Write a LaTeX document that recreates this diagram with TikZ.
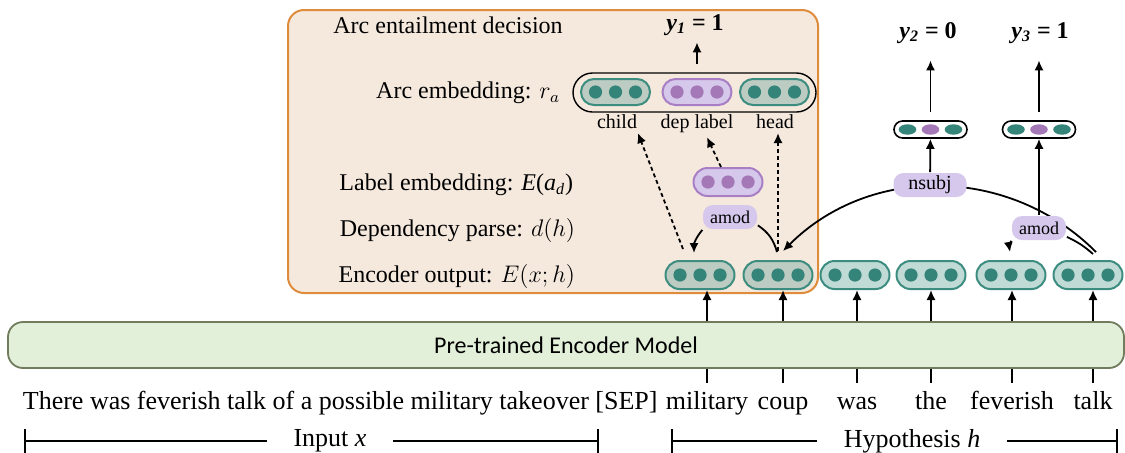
\documentclass[tikz,border=0pt]{standalone}
\usepackage{fontspec}
\setmainfont{Liberation Serif}
\newfontfamily\calibrifont{Carlito}
\usetikzlibrary{shapes.misc,arrows.meta}

\definecolor{boxorange}{RGB}{222,140,60}
\definecolor{boxbeige}{RGB}{245,233,222}
\definecolor{encgreen}{RGB}{226,239,217}
\definecolor{encedge}{RGB}{112,124,92}
\definecolor{tealdot}{RGB}{53,132,121}
\definecolor{tealedge}{RGB}{61,140,128}
\definecolor{tealfill}{RGB}{192,219,214}
\definecolor{tealgray}{RGB}{188,204,194}
\definecolor{purpdot}{RGB}{164,119,183}
\definecolor{purpedge}{RGB}{168,126,196}
\definecolor{purpfill}{RGB}{213,200,234}
\definecolor{relfill}{RGB}{213,200,236}

\tikzset{
  >={Latex[length=5pt,width=4.6pt]},
  capsule/.style n args={3}{rounded rectangle, draw=#1, fill=#2, line width=1pt,
    minimum width=34.5pt, minimum height=14pt, inner sep=0pt,
    path picture={\foreach \dx in {-10pt,0pt,10pt}
      \fill[#3] ([xshift=\dx]path picture bounding box.center) circle (3.3pt);}},
  vec/.style={capsule={tealedge}{tealfill}{tealdot}},
  boxvec/.style={capsule={tealedge}{tealgray}{tealdot}},
  labvec/.style={capsule={purpedge}{purpfill}{purpdot}},
  outvec/.style={rounded rectangle, draw, line width=0.8pt, fill=white,
    minimum width=36.5pt, minimum height=8.5pt, inner sep=0pt,
    path picture={
      \fill[tealdot] ([xshift=-11.5pt]path picture bounding box.center) ellipse (4.4pt and 2.6pt);
      \fill[purpdot] (path picture bounding box.center) ellipse (4.4pt and 2.6pt);
      \fill[tealdot] ([xshift=11.5pt]path picture bounding box.center) ellipse (4.4pt and 2.6pt);}},
  outline/.style={rounded rectangle, draw, line width=0.7pt, minimum width=121.5pt,
    minimum height=19.5pt, inner sep=0pt},
  rel/.style={rectangle, rounded corners=5pt, fill=relfill, inner xsep=3.5pt, inner ysep=0pt,
    minimum height=12pt, font=\fontsize{9}{10}\selectfont},
  lbl/.style={font=\fontsize{12}{14}\selectfont, inner sep=1pt},
  small/.style={anchor=base, font=\fontsize{10}{12}\selectfont, inner sep=2pt},
  yout/.style={font=\bfseries\fontsize{12}{14}\selectfont, inner sep=2pt},
  word/.style={anchor=base, font=\fontsize{13}{15}\selectfont, text height=9pt,
    text depth=3pt, inner ysep=3.5pt, inner xsep=0pt},
  span/.style={fill=white, inner xsep=13.5pt, inner ysep=1pt, font=\fontsize{13}{15}\selectfont},
  enc/.style={rectangle, rounded corners=7.5pt, draw=encedge, line width=0.9pt, fill=encgreen,
    minimum width=558pt, minimum height=23pt, font=\calibrifont\fontsize{12}{14}\selectfont},
  dotarrow/.style={->, dash pattern=on 2pt off 1.5pt, line width=0.9pt},
  bracket/.style={{Bar[width=12pt]}-{Bar[width=12pt]}, line width=0.8pt}
}

\begin{document}
\begin{tikzpicture}[x=0.5pt,y=-0.5pt,line width=0.9pt]
  \useasboundingbox (0,0) rectangle (1125,452);
  \draw[draw=boxorange, fill=boxbeige, line width=1pt, rounded corners=8pt] (288,10) rectangle (818,293);

  \node[lbl] (dec) at (448,25) {Arc entailment decision};
  \node[lbl, anchor=east] (are) at (563,93) {Arc embedding: $r_a$};
  \node[lbl, anchor=east] (lae) at (576,185) {Label embedding: \textit{E}(\textit{a}\textsubscript{\textit{d}})};
  \node[lbl, anchor=east] (dep) at (578,230) {Dependency parse: $d(h)$};
  \node[lbl, anchor=east] (eno) at (578,276) {Encoder output: $E(x;h)$};

  \node[enc] (enc) at (566,345) {Pre-trained Encoder Model};

  \node[boxvec] (c1) at (700,275) {};
  \node[boxvec] (c2) at (778,275) {};
  \node[vec] (c3) at (855,275) {};
  \node[vec] (c4) at (931,275) {};
  \node[vec] (c5) at (1011,275) {};
  \node[vec] (c6) at (1088,275) {};

  \node[anchor=base west, inner sep=0pt, font=\fontsize{13}{15}\selectfont] (inp) at (22,409) {There was feverish talk of a possible military takeover [SEP]};
  \node[word] (w1) at (707,409) {military};
  \node[word] (w2) at (783,409) {coup};
  \node[word] (w3) at (857,409) {was};
  \node[word] (w4) at (931,409) {the};
  \node[word] (w5) at (1012,409) {feverish};
  \node[word] (w6) at (1093,409) {talk};

  \draw (enc.south -| w1) -- (w1.north);
  \draw (enc.south -| w2) -- (w2.north);
  \draw (enc.south -| w3) -- (w3.north);
  \draw (enc.south -| w4) -- (w4.north);
  \draw (enc.south -| w5) -- (w5.north);
  \draw (enc.south -| w6) -- (w6.north);
  \draw[->] (enc.north -| w1) -- (c1.south -| w1);
  \draw[->] (enc.north -| w2) -- (c2.south -| w2);
  \draw[->] (enc.north -| w3) -- (c3.south -| w3);
  \draw[->] (enc.north -| w4) -- (c4.south -| w4);
  \draw[->] (enc.north -| w5) -- (c5.south -| w5);
  \draw[->] (enc.north -| w6) -- (c6.south -| w6);

  \node[outline] (arc) at (694.5,92.5) {};
  \node[boxvec, minimum height=13pt] (ch) at (615.5,92) {};
  \node[labvec, minimum height=13pt] (dl) at (697,92) {};
  \node[boxvec, minimum height=13pt] (hd) at (774.5,92) {};
  \node[small] (lch) at (617,128) {child};
  \node[small] (ldl) at (697,128) {dep label};
  \node[small] (lhd) at (775,128) {head};

  \node[yout] (y1) at (695,25) {\textit{y}\textsubscript{\textit{1}} = 1};
  \draw[->, shorten <=4pt, shorten >=1pt] (dl |- arc.north) -- (dl |- y1.south);

  \node[labvec] (le) at (728,182) {};
  \node[rel] (am1) at (730,217) {amod};
  \draw[->] (am1) to[bend right=20] ([xshift=-3pt,yshift=3.5pt]c1.north);
  \draw ([xshift=-0.5pt,yshift=4pt]c2.north) to[bend right=20] (am1);

  \draw[dotarrow] ([xshift=-8.5pt,yshift=5.5pt]c1.north) -- ([xshift=-2pt]lch.south east);
  \draw[dotarrow] (le) -- ([xshift=5pt]ldl.south);
  \draw[dotarrow] ([yshift=4.5pt]c2.north) -- (c2.north |- lhd.south);

  \draw[->] ([xshift=4pt,yshift=4pt]c6.north) to[out=135,in=45] ([xshift=2.5pt,yshift=4.5pt]c2.north);
  \node[rel] (am2) at (1039,228) {amod};
  \node[rel, minimum width=36.5pt, font=\fontsize{10}{12}\selectfont] (ns) at (930,185) {nsubj};
  \draw (am2) to[bend left=8] ([xshift=2.5pt,yshift=3pt]c6.north);
  \draw[->] (am2) to[bend right=15] ([xshift=-0.5pt,yshift=4pt]c5.north);

  \node[outvec] (s1) at (930.5,129.5) {};
  \node[outvec] (s2) at (1039,129.5) {};
  \node[yout] (y2) at (928,33) {\textit{y}\textsubscript{\textit{2}} = 0};
  \node[yout] (y3) at (1040,33) {\textit{y}\textsubscript{\textit{3}} = 1};
  \draw[->] (ns) -- (s1);
  \draw[->] (am2) -- (s2);
  \draw[->, shorten <=4pt, shorten >=6pt] (s1) -- (s1 |- y2.south);
  \draw[->, shorten <=4pt, shorten >=6pt] (s2) -- (s2 |- y3.south);

  \coordinate (ia) at (24,441);
  \coordinate (ib) at (599,441);
  \coordinate (ha) at (671,441);
  \coordinate (hb) at (1118,441);
  \draw[bracket] (ia) -- (ib);
  \node[span] (inx) at (330,441) {Input \textit{x}};
  \draw[bracket] (ha) -- (hb);
  \node[span] (hyp) at (912,441) {Hypothesis \textit{h}};
\end{tikzpicture}
\end{document}
